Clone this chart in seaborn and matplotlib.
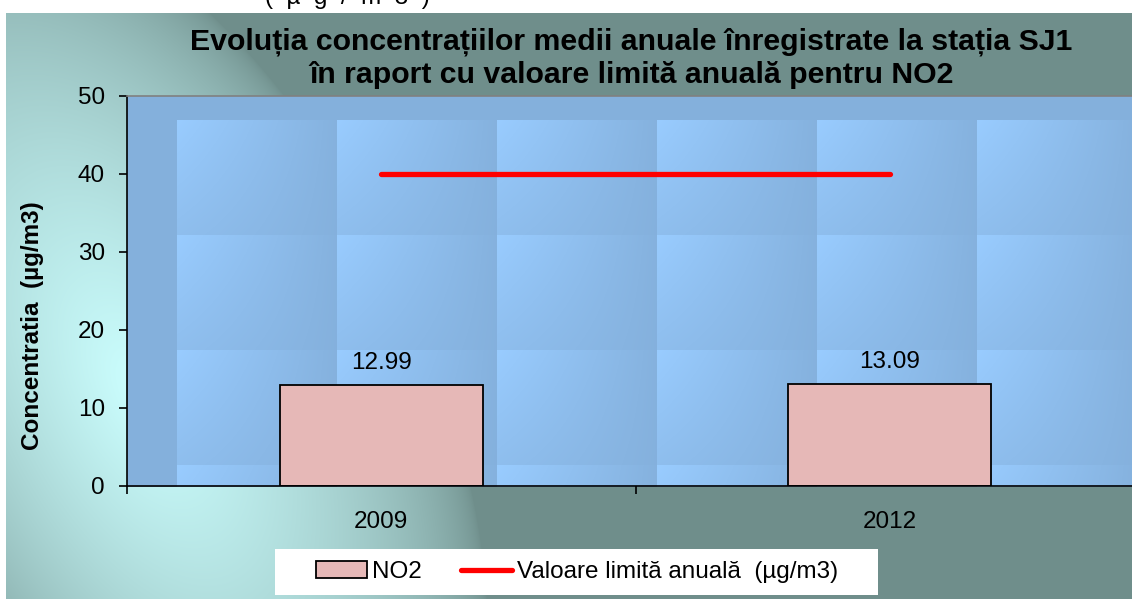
import numpy as np
import matplotlib
matplotlib.use("Agg")
import matplotlib.pyplot as plt
import seaborn as sns
from matplotlib.patches import Patch, Rectangle
from matplotlib.lines import Line2D

# --- data ---
years = ['2009', '2012']
no2 = [12.99, 13.09]
limit = [40, 40]
yticks = [0, 10, 20, 30, 40, 50]

sns.set_theme(style="white")
plt.rcParams['font.family'] = ['Liberation Sans', 'DejaVu Sans']
plt.rcParams['text.color'] = 'black'
plt.rcParams['xtick.labelcolor'] = 'black'
plt.rcParams['ytick.labelcolor'] = 'black'

W, H = 1132, 599
fig = plt.figure(figsize=(W / 100, H / 100), dpi=100)

# --- background: teal chart area with cyan glow, textured blue plot area ---
yy, xx = np.mgrid[0:H, 0:W].astype(float)
base = np.array([0x6f, 0x8e, 0x8b]) / 255
light = np.array([0xcc, 0xff, 0xff]) / 255
d = np.array([0.446, 0.895])
vx, vy = xx - 140, yy - 390
along = vx * d[0] + vy * d[1]
perp = np.abs(vx * d[1] - vy * d[0])
r = np.sqrt((along / 540) ** 2 + (perp / 280) ** 2)
f = np.clip(1 - r, 0, 1) ** 0.6
img = base + (light - base) * f[..., None]

pa = (xx >= 127) & (yy >= 96) & (yy <= 486)
pbase = np.array([0x84, 0xb0, 0xdc]) / 255
plight = np.array([0x99, 0xcc, 0xff]) / 255
lx = np.mod(xx - 177, 160)
ly = np.mod(yy - 120, 115)
tf = np.clip(1 - lx / 165, 0, 1) ** 0.9 * (1 - 0.5 * ly / 115)
tf[(xx < 177) | (yy < 120)] = 0
ptex = pbase + (plight - pbase) * tf[..., None]
img[pa] = ptex[pa]
img[(yy < 13) | (xx < 6)] = 1.0

bg = fig.add_axes([0, 0, 1, 1], zorder=-10)
bg.imshow(img, aspect='auto', interpolation='nearest')
bg.axis('off')

# --- main axes ---
ax = fig.add_axes([127 / W, (H - 486) / H, (1144 - 127) / W, (486 - 96) / H])
ax.patch.set_visible(False)

sns.barplot(x=years, y=no2, color='#e6b8b7', width=0.4, saturation=1,
            edgecolor='black', linewidth=1.3, ax=ax)
sns.lineplot(x=np.arange(len(years)), y=limit, color='red', linewidth=3.8,
             solid_capstyle='round', ax=ax)

ax.bar_label(ax.containers[0], fmt='%.2f', padding=8, fontsize=17.5)

ax.set_xlim(-0.5, 1.5)
ax.set_ylim(0, 50)
ax.set_yticks(yticks)
ax.set_xticks(range(len(years)), years)
ax.set_xticks([-0.5, 0.5, 1.5], minor=True)
ax.tick_params(axis='y', which='major', direction='out', length=6, width=1.2,
               color='black', labelsize=17.5, pad=10, left=True)
ax.tick_params(axis='x', which='major', length=0, labelsize=17.5, pad=18)
ax.tick_params(axis='x', which='minor', direction='out', length=6, width=1.2,
               color='black', bottom=True)
ax.set_xlabel('')
ax.set_ylabel('')
for s in ['left', 'bottom']:
    ax.spines[s].set_color('black')
    ax.spines[s].set_linewidth(1.2)
ax.spines['top'].set_color('#808080')
ax.spines['top'].set_linewidth(1.2)
ax.spines['right'].set_visible(False)
ax.grid(False)

# --- texts ---
fig.text(631 / W, 1 - 49 / H,
         'Evoluția concentrațiilor medii anuale înregistrate la stația SJ1',
         ha='center', va='baseline', fontsize=21.8, fontweight='bold')
fig.text(631 / W, 1 - 83 / H,
         'în raport cu valoare limită anuală pentru NO2',
         ha='center', va='baseline', fontsize=21.8, fontweight='bold')
fig.text(33 / W, 1 - 326 / H, 'Concentratia  (µg/m3)', rotation=90,
         ha='center', va='center', fontsize=17.5, fontweight='bold')
# caption line above the chart, cut off by the page edge as in the source
fig.text(347 / W, 1 - 4 / H, '(  µ  g  /  m  3  )', ha='center',
         va='baseline', fontsize=17.5)

# --- legend ---
fig.add_artist(Rectangle((275 / W, 1 - 595 / H), (878 - 275) / W, 46 / H,
                         transform=fig.transFigure, facecolor='white',
                         edgecolor='none', zorder=5))
handles = [Patch(facecolor='#e6b8b7', edgecolor='black', linewidth=1.3),
           Line2D([], [], color='red', linewidth=3.8, solid_capstyle='round')]
leg = fig.legend(handles, ['NO2', 'Valoare limită anuală  (µg/m3)'],
                 loc='center', bbox_to_anchor=(577 / W, 1 - 572 / H), ncol=2,
                 frameon=False, fontsize=17.5, handlelength=2.1,
                 handletextpad=0.2, columnspacing=1.6)
leg.set_zorder(6)

fig.savefig('out.png', dpi=100)
